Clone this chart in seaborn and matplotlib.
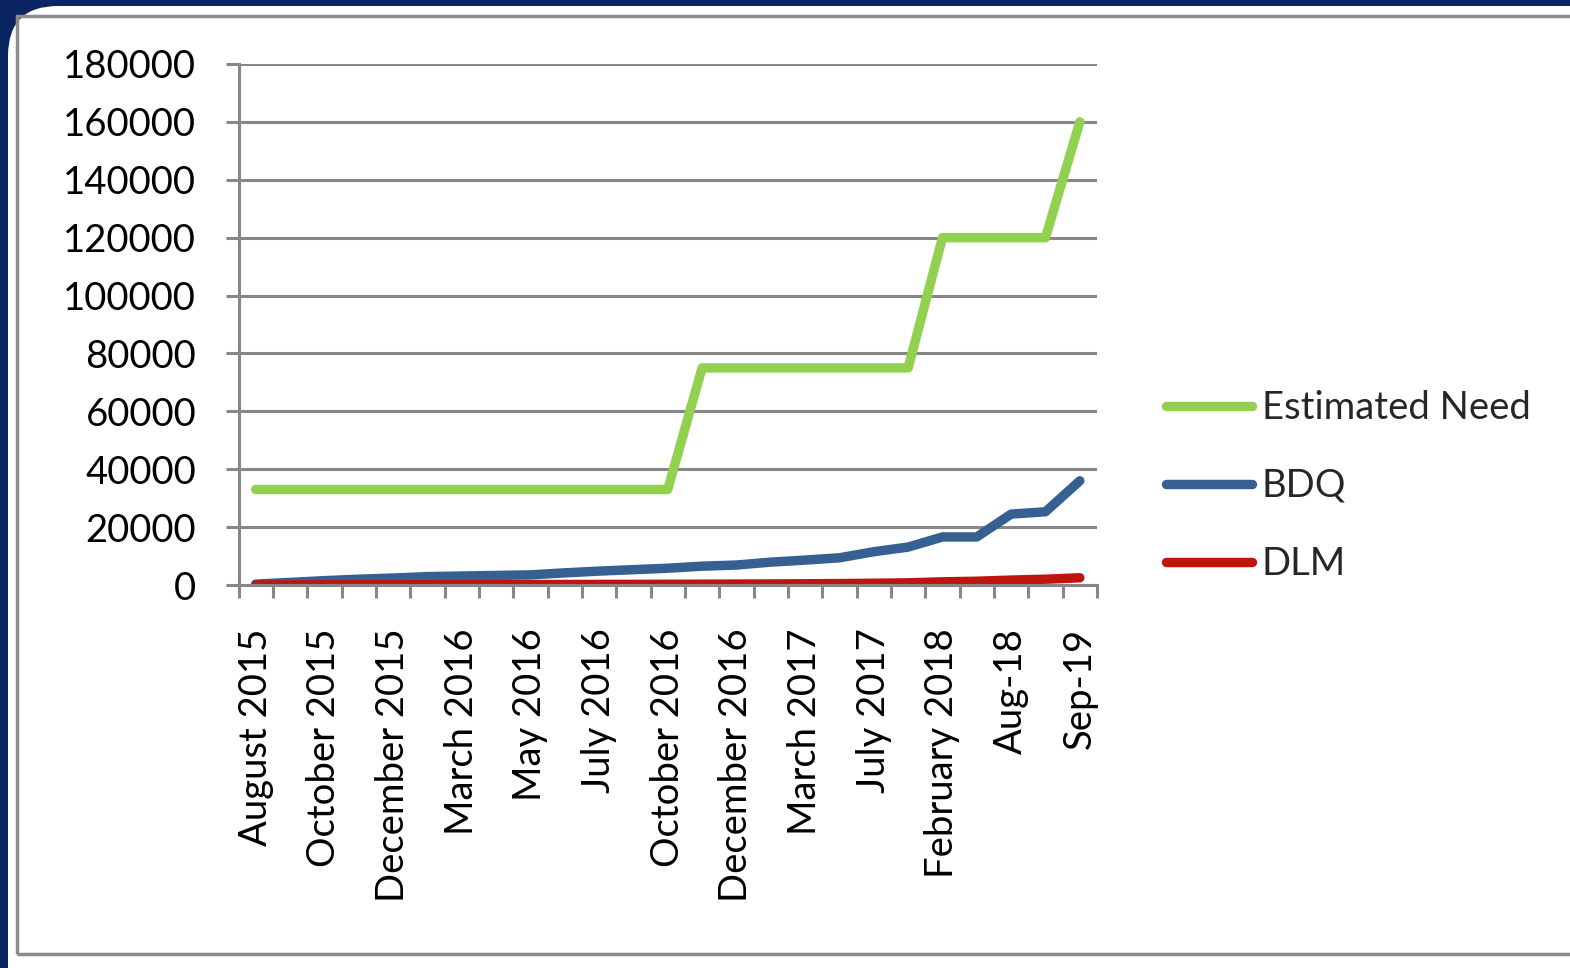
# line chart: estimated need vs BDQ and DLM, monthly categories
import pandas as pd
import matplotlib.pyplot as plt
import matplotlib.patches as mpatches
from matplotlib.transforms import IdentityTransform
import seaborn as sns

# category labels (only every other category carries a label)
tick_labels = ['August 2015', 'October 2015', 'December 2015', 'March 2016', 'May 2016',
               'July 2016', 'October 2016', 'December 2016', 'March 2017', 'July 2017',
               'February 2018', 'Aug-18', 'Sep-19']
n_cats = 25

estimated_need = [33000] * 13 + [75000] * 7 + [120000] * 4 + [160000]
bdq = [300, 900, 1500, 2000, 2400, 2900, 3100, 3300, 3500, 4200, 4800, 5300, 5800,
       6500, 6900, 7900, 8600, 9400, 11500, 13100, 16600, 16600, 24500, 25300, 36000]
dlm = [0, 20, 40, 60, 80, 100, 120, 140, 160, 180, 200, 220, 250,
       280, 320, 360, 420, 500, 600, 750, 1100, 1300, 1700, 2000, 2500]

series = ['Estimated Need', 'BDQ', 'DLM']
colors = ['#92d050', '#376092', '#c0150f']

df = pd.DataFrame({
    'idx': list(range(n_cats)) * 3,
    'value': estimated_need + bdq + dlm,
    'series': [s for s in series for _ in range(n_cats)],
})

sns.set_style('white')
plt.rcParams['font.family'] = ['Lato', 'DejaVu Sans']
grey = '#878787'
fs = 27.5

fig = plt.figure(figsize=(15.7, 9.68), dpi=100)
fig.patch.set_facecolor('#0b2462')

# white slide panel with rounded top-left corner and grey frame (behind the axes)
panel = mpatches.FancyBboxPatch((8, -200), 1800, 1162, boxstyle='round,pad=0,rounding_size=50',
                                transform=IdentityTransform(), facecolor='white',
                                edgecolor='none', zorder=-2)
fig.add_artist(panel)
frame = mpatches.Rectangle((17, 14.5), 1700, 938, transform=IdentityTransform(),
                           facecolor='none', edgecolor='#8c8c8c', linewidth=2.5, zorder=-1)
fig.add_artist(frame)

ax = fig.add_axes([238.5 / 1570, 1 - 585 / 968, (1097 - 238.5) / 1570, (585 - 64) / 968])
ax.set_facecolor('none')

sns.lineplot(data=df, x='idx', y='value', hue='series', hue_order=series,
             palette=colors, linewidth=6.8, solid_capstyle='round',
             solid_joinstyle='round', ax=ax)

ax.set_xlim(-0.5, n_cats - 0.5)
ax.set_ylim(0, 180000)
ax.set_yticks(range(0, 180001, 20000))
ax.set_yticklabels([str(v) for v in range(0, 180001, 20000)])
ax.set_xticks(range(0, n_cats, 2))
ax.set_xticklabels(tick_labels, rotation=90, va='top', ha='center')
ax.set_xticks([i - 0.5 for i in range(n_cats + 1)], minor=True)
ax.set_xlabel('')
ax.set_ylabel('')

ax.grid(axis='y', color=grey, linewidth=2.2)
ax.set_axisbelow(True)
for side in ['top', 'right']:
    ax.spines[side].set_visible(False)
for side in ['left', 'bottom']:
    ax.spines[side].set_color(grey)
    ax.spines[side].set_linewidth(2.2)

ax.tick_params(axis='y', which='major', length=9.5, width=2.2, color=grey,
               pad=21, labelsize=fs, labelcolor='black', left=True)
ax.tick_params(axis='x', which='major', length=0, pad=31, labelsize=fs, labelcolor='black')
ax.tick_params(axis='x', which='minor', length=9, width=2.2, color=grey, bottom=True)

ax.legend(loc='center left', bbox_to_anchor=(1166 / 1570, 1 - 486 / 968), bbox_transform=fig.transFigure,
          frameon=False, fontsize=fs, handlelength=2.25, handletextpad=0.26,
          labelspacing=1.1, borderpad=0, borderaxespad=0)

fig.savefig('out.png', dpi=100, facecolor=fig.get_facecolor())
